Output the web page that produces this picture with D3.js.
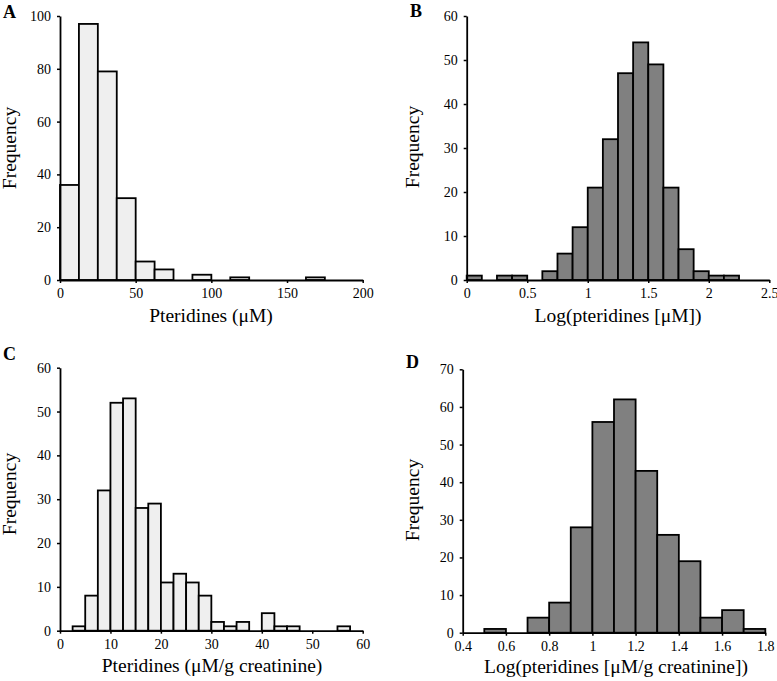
<!DOCTYPE html>
<html><head><meta charset="utf-8">
<script src="https://cdn.jsdelivr.net/npm/d3@7"></script>
<style>
html,body{margin:0;padding:0;background:#fff;}
svg{display:block;}
text{font-family:"Liberation Serif","Times New Roman",serif;fill:#000;}
</style></head>
<body>
<svg id="chart" width="777" height="681"></svg>
<script>
// Panel A: Pteridines (µM), bin width 12.5
const binsA = [0,12.5,25,37.5,50,62.5,75,87.5,100,112.5,125,137.5,150,162.5,175];
const countsA = [36,97,79,31,7,4,0,2,0,1,0,0,0,1];
const ticksA_x = [0,50,100,150,200];
const ticksA_y = [0,20,40,60,80,100];

// Panel B: Log(pteridines), bin width 0.125
const binsB = [0,0.125,0.25,0.375,0.5,0.625,0.75,0.875,1,1.125,1.25,1.375,1.5,1.625,1.75,1.875,2,2.125,2.25];
const countsB = [1,0,1,1,0,2,6,12,21,32,47,54,49,21,7,2,1,1];
const ticksB_x = [0,0.5,1,1.5,2,2.5];
const ticksB_y = [0,10,20,30,40,50,60];

// Panel C: Pteridines (µM/g creatinine), bin width 2.5
const binsC = [2.5,5,7.5,10,12.5,15,17.5,20,22.5,25,27.5,30,32.5,35,37.5,40,42.5,45,47.5,50,52.5,55,57.5];
const countsC = [1,8,32,52,53,28,29,11,13,11,8,2,1,2,0,4,1,1,0,0,0,1];
const ticksC_x = [0,10,20,30,40,50,60];
const ticksC_y = [0,10,20,30,40,50,60];

// Panel D: Log(pteridines µM/g creatinine), bin width 0.1
const binsD = [0.5,0.6,0.7,0.8,0.9,1.0,1.1,1.2,1.3,1.4,1.5,1.6,1.7,1.8];
const countsD = [1,0,4,8,28,56,62,43,26,19,4,6,1];
const ticksD_x = [0.4,0.6,0.8,1,1.2,1.4,1.6,1.8];
const ticksD_y = [0,10,20,30,40,50,60,70];

const svg = d3.select("#chart");

function panel(cfg){
  const g = svg.append("g");
  const x = d3.scaleLinear().domain(cfg.xDomain).range(cfg.xRange);
  const y = d3.scaleLinear().domain(cfg.yDomain).range(cfg.yRange);
  const bars = cfg.counts.map((c,i)=>({x0:cfg.bins[i], x1:cfg.bins[i+1], c:c}));
  g.selectAll("rect.bar").data(bars.filter(d=>d.c>0)).join("rect")
    .attr("class","bar")
    .attr("x", d=>x(d.x0)).attr("width", d=>x(d.x1)-x(d.x0))
    .attr("y", d=>y(d.c)).attr("height", d=>y(0)-y(d.c))
    .attr("fill", cfg.fill).attr("stroke","#000").attr("stroke-width",1.8);

  const xa = d3.axisBottom(x).tickValues(cfg.xTicks).tickSize(3).tickSizeOuter(0).tickPadding(5)
    .tickFormat(d=>String(+d.toFixed(2)));
  const gx = g.append("g").attr("transform",`translate(0,${cfg.yRange[0]})`).call(xa);
  const ya = d3.axisLeft(y).tickValues(cfg.yTicks).tickSize(3).tickSizeOuter(0).tickPadding(6);
  const gy = g.append("g").attr("transform",`translate(${cfg.xRange[0]},0)`).call(ya);
  [gx,gy].forEach(a=>{
    a.select(".domain").attr("stroke","#000").attr("stroke-width",1.8);
    a.selectAll(".tick line").attr("stroke","#000").attr("stroke-width",1.5);
    a.selectAll(".tick text").attr("font-size",14).attr("font-family",'"Liberation Serif",serif').attr("fill","#000");
  });

  g.append("text").attr("x",cfg.xTitle[0]).attr("y",cfg.xTitle[1])
    .attr("text-anchor","middle").attr("font-size",19.5).text(cfg.xLabel);
  g.append("text").attr("transform",`translate(${cfg.yTitle[0]},${cfg.yTitle[1]}) rotate(-90)`)
    .attr("text-anchor","middle").attr("font-size",19.5).text("Frequency");
  g.append("text").attr("x",cfg.letter[0]).attr("y",cfg.letter[1])
    .attr("font-size",18).attr("font-weight","bold").text(cfg.letterText);
}

panel({bins:binsA, counts:countsA, xDomain:[0,200], yDomain:[0,100],
  xRange:[60,362.7], yRange:[280,16], xTicks:ticksA_x, yTicks:ticksA_y, fill:"#efefef",
  xLabel:"Pteridines (\u03BCM)", xTitle:[211,322], yTitle:[16,148], letter:[3,18], letterText:"A"});
panel({bins:binsB, counts:countsB, xDomain:[0,2.5], yDomain:[0,60],
  xRange:[466.7,769.3], yRange:[280,16], xTicks:ticksB_x, yTicks:ticksB_y, fill:"#808080",
  xLabel:"Log(pteridines [\u03BCM])", xTitle:[618,322], yTitle:[419,147], letter:[410,17], letterText:"B"});
panel({bins:binsC, counts:countsC, xDomain:[0,60], yDomain:[0,60],
  xRange:[60,362.7], yRange:[630.7,367.7], xTicks:ticksC_x, yTicks:ticksC_y, fill:"#efefef",
  xLabel:"Pteridines (\u03BCM/g creatinine)", xTitle:[212,672], yTitle:[16,494], letter:[3,360], letterText:"C"});
panel({bins:binsD, counts:countsD, xDomain:[0.4,1.8], yDomain:[0,70],
  xRange:[462.7,765.3], yRange:[632.7,369.3], xTicks:ticksD_x, yTicks:ticksD_y, fill:"#808080",
  xLabel:"Log(pteridines [\u03BCM/g creatinine])", xTitle:[616,673], yTitle:[419,500], letter:[406,368], letterText:"D"});
</script>
</body></html>
